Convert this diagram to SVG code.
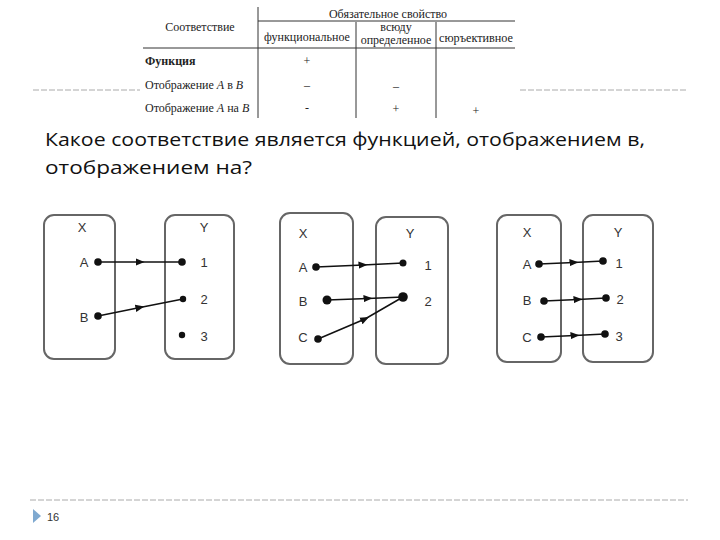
<svg xmlns="http://www.w3.org/2000/svg" width="720" height="540" viewBox="0 0 720 540">
<defs>
<marker id="ah" viewBox="0 0 10 10" refX="5" refY="5" markerWidth="9" markerHeight="9" markerUnits="userSpaceOnUse" orient="auto">
<path d="M0,1 L10,5 L0,9 Z" fill="#111"/>
</marker>
</defs>
<style>
.tb{font-family:"Liberation Serif",serif;font-size:12px;fill:#222}
.tl{stroke:#333;stroke-width:1;fill:none}
.dash{stroke:#aaa;stroke-width:1;stroke-dasharray:6 2;fill:none}
.q{font-family:"Open Sans","Liberation Sans",sans-serif;font-size:19px;fill:#111}
.box{fill:#fff;stroke:#666;stroke-width:2}
.lb{font-family:"Liberation Sans",Arial,sans-serif;font-size:13px;fill:#333;text-anchor:middle}
.ar{stroke:#111;stroke-width:1.5;fill:none;marker-mid:url(#ah)}
.dt{fill:#111}
</style>
<rect width="720" height="540" fill="#fff"/>
<g id="separator-top">
<line class="dash" x1="33" y1="90" x2="140" y2="90"/>
<line class="dash" x1="520" y1="90" x2="688" y2="90"/>
</g>
<g id="table">
<line class="tl" x1="258" y1="7" x2="258" y2="118"/>
<line class="tl" x1="258" y1="21" x2="515" y2="21"/>
<line class="tl" x1="143" y1="48" x2="515" y2="48"/>
<line class="tl" x1="356" y1="22" x2="356" y2="118"/>
<line class="tl" x1="436" y1="22" x2="436" y2="118"/>
<text class="tb" x="200" y="31" text-anchor="middle">Соответствие</text>
<text class="tb" x="388" y="18" text-anchor="middle">Обязательное свойство</text>
<text class="tb" x="307" y="41" text-anchor="middle">функциональное</text>
<text class="tb" x="396" y="31" text-anchor="middle" font-size="11">всюду</text>
<text class="tb" x="396" y="44" text-anchor="middle" font-size="11">определенное</text>
<text class="tb" x="476" y="42" text-anchor="middle" textLength="74" lengthAdjust="spacingAndGlyphs">сюръективное</text>
<text class="tb" x="145" y="65" font-weight="600">Функция</text>
<text class="tb" x="307" y="65" text-anchor="middle">+</text>
<text class="tb" x="145" y="89">Отображение <tspan font-style="italic">A</tspan> в <tspan font-style="italic">B</tspan></text>
<text class="tb" x="307" y="89" text-anchor="middle">–</text>
<text class="tb" x="396" y="90" text-anchor="middle">–</text>
<text class="tb" x="145" y="112">Отображение <tspan font-style="italic">A</tspan> на <tspan font-style="italic">B</tspan></text>
<text class="tb" x="307" y="112" text-anchor="middle">-</text>
<text class="tb" x="396" y="113" text-anchor="middle">+</text>
<text class="tb" x="476" y="115" text-anchor="middle">+</text>
</g>
<g id="question">
<text class="q" x="45" y="146" textLength="600" lengthAdjust="spacingAndGlyphs">Какое соответствие является функцией, отображением в,</text>
<text class="q" x="45" y="174" textLength="207" lengthAdjust="spacingAndGlyphs">отображением на?</text>
</g>
<g id="d1-X"><rect class="box" x="44" y="215" width="71" height="144" rx="10"/><text class="lb" x="82" y="232">X</text><text class="lb" x="84" y="267">A</text><text class="lb" x="84" y="322">B</text></g>
<g id="d1-Y"><rect class="box" x="165" y="215" width="69" height="144" rx="10"/><text class="lb" x="204" y="232">Y</text><text class="lb" x="204" y="267">1</text><text class="lb" x="204" y="304">2</text><text class="lb" x="204" y="341">3</text></g>
<g id="d2-X"><rect class="box" x="280" y="213" width="73" height="151" rx="10"/><text class="lb" x="303" y="238">X</text><text class="lb" x="303" y="272">A</text><text class="lb" x="303" y="306">B</text><text class="lb" x="303" y="342">C</text></g>
<g id="d2-Y"><rect class="box" x="376" y="217" width="72" height="147" rx="10"/><text class="lb" x="410" y="238">Y</text><text class="lb" x="428" y="270">1</text><text class="lb" x="428" y="306">2</text></g>
<g id="d3-X"><rect class="box" x="497" y="215" width="64" height="147" rx="10"/><text class="lb" x="527" y="237">X</text><text class="lb" x="527" y="269">A</text><text class="lb" x="527" y="305">B</text><text class="lb" x="527" y="342">C</text></g>
<g id="d3-Y"><rect class="box" x="583" y="215" width="70" height="147" rx="10"/><text class="lb" x="618" y="237">Y</text><text class="lb" x="619" y="268">1</text><text class="lb" x="620" y="304">2</text><text class="lb" x="619" y="341">3</text></g>
<g id="connectors">
<path class="ar" d="M98,262 L140,262 L182,262"/>
<path class="ar" d="M98,316 L140,307.5 L183,299"/>
<path class="ar" d="M316,267 L363,265 L403,263"/>
<path class="ar" d="M327,300 L368,298.5 L403,297"/>
<path class="ar" d="M318,339 L365,319 L403,297"/>
<path class="ar" d="M539,264 L574,262.5 L603,261"/>
<path class="ar" d="M544,301 L578,299.5 L606,298"/>
<path class="ar" d="M541,337 L575,335.5 L605,334"/>
</g>
<g id="dots">
<circle class="dt" cx="98" cy="262" r="3.8"/><circle class="dt" cx="182" cy="262" r="3.8"/>
<circle class="dt" cx="98" cy="316" r="3.8"/><circle class="dt" cx="183" cy="299" r="3.2"/><circle class="dt" cx="182" cy="335" r="3.2"/>
<circle class="dt" cx="316" cy="267" r="3.8"/><circle class="dt" cx="403" cy="263" r="3.5"/>
<circle class="dt" cx="327" cy="300" r="4.5"/><circle class="dt" cx="403" cy="297" r="4.8"/><circle class="dt" cx="318" cy="339" r="3.8"/>
<circle class="dt" cx="539" cy="264" r="3.8"/><circle class="dt" cx="603" cy="261" r="3.8"/>
<circle class="dt" cx="544" cy="301" r="3.8"/><circle class="dt" cx="606" cy="298" r="3.8"/>
<circle class="dt" cx="541" cy="337" r="3.8"/><circle class="dt" cx="605" cy="334" r="3.8"/>
</g>
<g id="footer">
<line class="dash" x1="30" y1="500" x2="688" y2="500"/>
<path d="M33,509 L41,516 L33,523 Z" fill="#7fa9d0"/>
<text x="47" y="521" font-family="'Liberation Sans',Arial,sans-serif" font-size="11" fill="#333">16</text>
</g>
</svg>
